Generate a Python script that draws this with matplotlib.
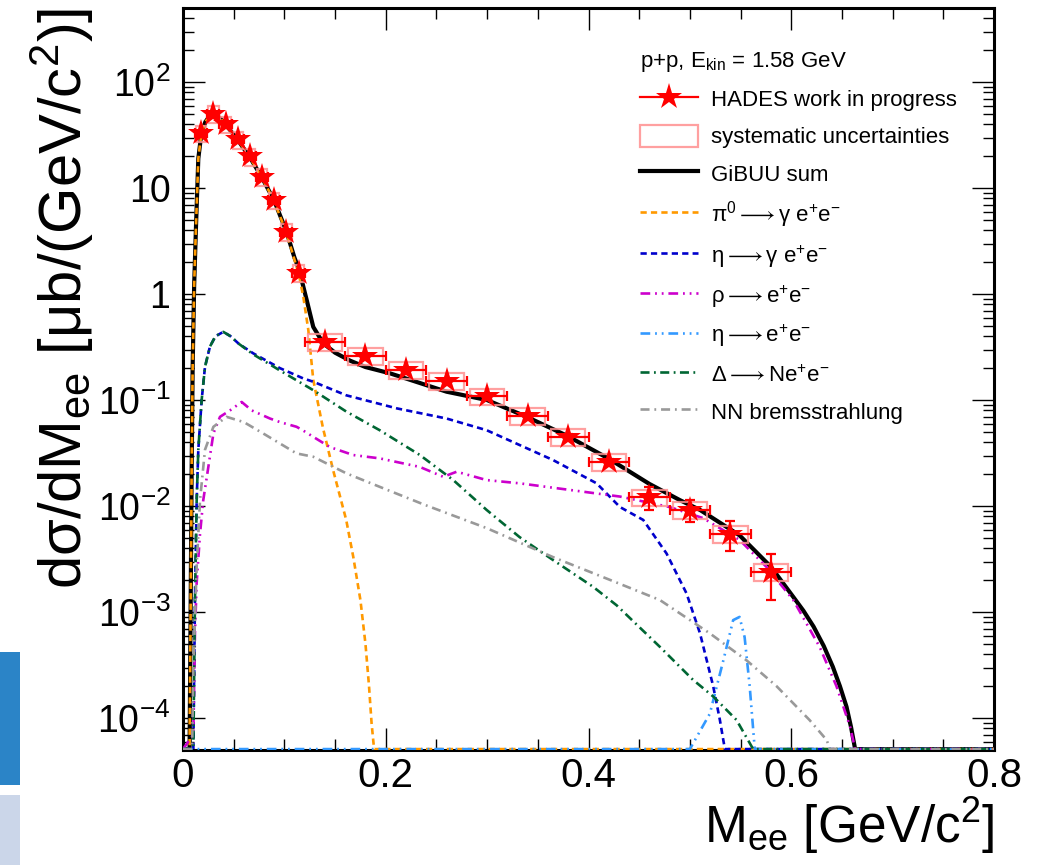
import numpy as np
import matplotlib
matplotlib.use("Agg")
import matplotlib.pyplot as plt
from matplotlib.patches import Rectangle
from matplotlib.lines import Line2D
from matplotlib.ticker import FixedLocator, FixedFormatter, LogLocator, MultipleLocator, NullFormatter

plt.rcParams['font.family'] = ['Liberation Sans', 'DejaVu Sans']
plt.rcParams['mathtext.fontset'] = 'custom'
plt.rcParams['mathtext.rm'] = 'Liberation Sans'
plt.rcParams['mathtext.it'] = 'Liberation Sans'
plt.rcParams['mathtext.bf'] = 'Liberation Sans:bold'
plt.rcParams['mathtext.default'] = 'regular'
plt.rcParams['mathtext.fallback'] = 'stixsans'
plt.rcParams['lines.scale_dashes'] = False

# ---------------- data ----------------
# HADES data points
x_data = [0.018, 0.030, 0.042, 0.054, 0.066, 0.078, 0.090, 0.102, 0.114,
          0.14, 0.18, 0.22, 0.26, 0.30, 0.34, 0.38, 0.42, 0.46, 0.50, 0.54, 0.58]
y_data = [33.0, 50.0, 40.0, 28.8, 19.9, 12.7, 7.7, 3.87, 1.59,
          0.355, 0.26, 0.192, 0.151, 0.109, 0.0706, 0.0451, 0.0262, 0.0121, 0.0092, 0.0055, 0.0024]
x_binhalf = [0.006] * 9 + [0.02] * 12
y_stat = [1.0, 1.5, 1.2, 0.9, 0.6, 0.4, 0.25, 0.15, 0.07,
          0.02, 0.013, 0.009, 0.007, 0.005, 0.0035, 0.0025, 0.0018, 0.003, 0.0021, 0.0017, 0.0011]
syst_rel = 0.18

# GiBUU sum
sum_x = [0.0, 0.0065, 0.0075, 0.0085, 0.0095, 0.011, 0.0128, 0.0151, 0.018, 0.022, 0.027, 0.031, 0.036,
         0.042, 0.054, 0.066, 0.078, 0.090, 0.102, 0.110, 0.114, 0.118, 0.122, 0.1285, 0.1384, 0.150,
         0.165, 0.180, 0.204, 0.227, 0.260, 0.300, 0.339, 0.378, 0.420, 0.460, 0.490, 0.510, 0.549,
         0.580, 0.602, 0.612, 0.622, 0.632, 0.641, 0.648, 0.6545, 0.659, 0.663, 0.8]
sum_y = [0.0, 5e-5, 1e-3, 0.02, 0.2, 1.2, 4.3, 19.0, 32.0, 42.0, 49.0, 50.0, 46.0,
         40.0, 28.5, 19.5, 12.5, 7.6, 3.9, 2.2, 1.75, 1.25, 0.88, 0.49, 0.343, 0.28,
         0.235, 0.205, 0.179, 0.152, 0.12, 0.10, 0.0695, 0.0465, 0.028, 0.0162, 0.0114, 0.0092, 0.0053,
         0.00267, 0.00139, 1.03e-3, 7.3e-4, 4.8e-4, 3.05e-4, 2.0e-4, 1.28e-4, 8.2e-5, 5e-5, 0.0]

# pi0 -> gamma e+e-
pi0_x = [0.0, 0.0065, 0.0075, 0.0085, 0.0095, 0.011, 0.0128, 0.0151, 0.018, 0.022, 0.027, 0.031, 0.036,
         0.042, 0.054, 0.066, 0.078, 0.090, 0.102, 0.110, 0.1145, 0.1187, 0.1236, 0.1285, 0.138, 0.148,
         0.161, 0.168, 0.175, 0.180, 0.1835, 0.186, 0.1885, 0.8]
pi0_y = [0.0, 5e-5, 1e-3, 0.02, 0.2, 1.2, 4.3, 19.0, 32.0, 42.0, 49.0, 50.0, 46.0,
         40.0, 28.5, 19.5, 12.5, 7.5, 3.8, 2.1, 1.5, 0.94, 0.46, 0.155, 0.055, 0.022,
         0.0074, 0.0033, 0.0013, 5e-4, 2e-4, 9e-5, 5e-5, 0.0]

# eta -> gamma e+e-
etad_x = [0.0, 0.0102, 0.0118, 0.0135, 0.0151, 0.0184, 0.0217, 0.0266, 0.0320, 0.0398, 0.047, 0.055,
          0.0693, 0.0957, 0.1187, 0.1285, 0.161, 0.211, 0.26, 0.2995, 0.365, 0.408, 0.431, 0.454,
          0.477, 0.4967, 0.51, 0.523, 0.5296, 0.5345, 0.8]
etad_y = [0.0, 5e-5, 1.3e-3, 0.0114, 0.034, 0.10, 0.206, 0.32, 0.40, 0.44, 0.40, 0.34,
          0.276, 0.20, 0.16, 0.149, 0.111, 0.0835, 0.067, 0.052, 0.0272, 0.0164, 0.0098, 0.0074,
          0.00357, 0.0015, 6.3e-4, 2e-4, 9.6e-5, 5e-5, 0.0]

# rho -> e+e-
rho_x = [0.0, 0.0102, 0.0118, 0.0135, 0.0168, 0.020, 0.025, 0.030, 0.0365, 0.0464, 0.0579, 0.0677,
         0.0858, 0.0957, 0.112, 0.118, 0.1285, 0.145, 0.168, 0.194, 0.2337, 0.2567, 0.27, 0.2995,
         0.332, 0.3817, 0.431, 0.48, 0.513, 0.549, 0.5755, 0.602, 0.628, 0.6446, 0.658, 0.663, 0.8]
rho_y = [0.0, 7e-5, 6.3e-4, 0.0019, 0.0055, 0.0114, 0.0234, 0.0485, 0.0695, 0.08, 0.096, 0.08,
         0.067, 0.062, 0.056, 0.052, 0.045, 0.036, 0.0303, 0.0282, 0.0234, 0.0189, 0.0211, 0.0176,
         0.0164, 0.0142, 0.0123, 0.0098, 0.0077, 0.0048, 0.00267, 0.0013, 4.7e-4, 2e-4, 8.3e-5, 5e-5, 0.0]

# eta -> e+e-
etaee_x = [0.0, 0.500, 0.5197, 0.533, 0.5427, 0.549, 0.554, 0.559, 0.564, 0.8]
etaee_y = [0.0, 5e-5, 1.1e-4, 3.5e-4, 8.4e-4, 9.0e-4, 5.8e-4, 2e-4, 5e-5, 0.0]

# Delta -> N e+e-
delta_x = [0.0, 0.0102, 0.0118, 0.0135, 0.0151, 0.0184, 0.0217, 0.0266, 0.0320, 0.0398, 0.047, 0.055,
           0.0693, 0.0957, 0.1285, 0.161, 0.194, 0.2337, 0.2666, 0.2995, 0.332, 0.365, 0.4046,
           0.4277, 0.4704, 0.503, 0.523, 0.546, 0.5624, 0.8]
delta_y = [0.0, 5e-5, 1.3e-3, 0.0114, 0.034, 0.10, 0.206, 0.32, 0.40, 0.44, 0.40, 0.34,
           0.27, 0.19, 0.124, 0.078, 0.052, 0.0303, 0.0176, 0.0092, 0.0051, 0.0031, 0.00173,
           0.00116, 4.7e-4, 2.3e-4, 1.6e-4, 9.6e-5, 5e-5, 0.0]

# NN bremsstrahlung
brems_x = [0.0, 0.009, 0.0102, 0.0135, 0.0168, 0.0217, 0.030, 0.043, 0.060, 0.079, 0.112, 0.1285,
           0.161, 0.194, 0.237, 0.2995, 0.365, 0.4277, 0.4704, 0.5197, 0.556, 0.5855, 0.618,
           0.635, 0.638, 0.8]
brems_y = [0.0, 5e-5, 3e-4, 0.0027, 0.0114, 0.034, 0.056, 0.0695, 0.062, 0.0485, 0.0314, 0.0292,
           0.0204, 0.0152, 0.0104, 0.0062, 0.0033, 0.0019, 0.0013, 6.3e-4, 3.5e-4, 2e-4, 9.6e-5,
           6.2e-5, 5e-5, 0.0]

legend_title = 'p+p, E$_{kin}$ = 1.58 GeV'
labels = ['HADES work in progress', 'systematic uncertainties', 'GiBUU sum',
          r'π$^{0}\longrightarrow$γ e$^{+}$e$^{-}$', r'η$\longrightarrow$γ e$^{+}$e$^{-}$',
          r'ρ$\longrightarrow$e$^{+}$e$^{-}$', r'η$\longrightarrow$e$^{+}$e$^{-}$',
          r'Δ$\longrightarrow$Ne$^{+}$e$^{-}$', 'NN bremsstrahlung']

xtick_values = [0.0, 0.2, 0.4, 0.6, 0.8]
xtick_labels = ['0', '0.2', '0.4', '0.6', '0.8']
ytick_values = [1e-4, 1e-3, 1e-2, 1e-1, 1, 10, 100]
ytick_labels = ['$10^{-4}$', '$10^{-3}$', '$10^{-2}$', '$10^{-1}$', '1', '10', '$10^{2}$']

YMIN, YMAX = 5e-5, 500.0
XMIN, XMAX = 0.0, 0.8

# ---------------- figure ----------------
fig = plt.figure(figsize=(10.48, 8.65), dpi=100)
ax = fig.add_axes([183 / 1048, 1 - 750 / 865, (994 - 183) / 1048, (750 - 8) / 865])

# slide decoration at left edge
fig.add_artist(Rectangle((0, 1 - 785 / 865), 20 / 1048, 133 / 865, transform=fig.transFigure,
                         facecolor='#2b84c7', edgecolor='none'))
fig.add_artist(Rectangle((0, 0), 20 / 1048, 70 / 865, transform=fig.transFigure,
                         facecolor='#cbd6e9', edgecolor='none'))


def clip(v):
    return np.clip(np.asarray(v, dtype=float), YMIN * 1.02, None)


styles = [
    (sum_x, sum_y, dict(color='black', lw=3.0, ls='-', zorder=3)),
    (pi0_x, pi0_y, dict(color='#ff9900', lw=1.9, ls=(0, (4.5, 3.0)), zorder=4)),
    (etad_x, etad_y, dict(color='#0000cc', lw=1.9, ls=(0, (4.5, 3.0)), zorder=4)),
    (rho_x, rho_y, dict(color='#cc00cc', lw=1.9, ls=(0, (7, 3.5, 1.3, 3.5, 1.3, 3.5)), zorder=4)),
    (etaee_x, etaee_y, dict(color='#3399ff', lw=1.9, ls=(0, (7, 3.5, 1.3, 3.5, 1.3, 3.5)), zorder=4)),
    (delta_x, delta_y, dict(color='#006633', lw=1.9, ls=(0, (6.5, 3.2, 1.3, 3.2)), zorder=4)),
    (brems_x, brems_y, dict(color='#999999', lw=1.9, ls=(0, (6.5, 3.5, 1.3, 3.5)), zorder=4)),
]
handles_lines = []
for xs, ys, st in styles:
    ln, = ax.plot(xs, clip(ys), **st)
    handles_lines.append(ln)

# systematic boxes
xd = np.array(x_data)
yd = np.array(y_data)
xh = np.array(x_binhalf)
for xi, yi, hi in zip(xd, yd, xh):
    w = 0.85 * hi
    ax.add_patch(Rectangle((xi - w, yi * (1 - syst_rel)), 2 * w, yi * 2 * syst_rel,
                           facecolor='none', edgecolor='#ff9090', lw=1.6, alpha=0.85, zorder=5))

ax.errorbar(xd, yd, xerr=xh, yerr=np.array(y_stat), fmt='none', ecolor='#ff0000',
            elinewidth=1.6, capsize=3.5, capthick=1.6, zorder=6)
ax.plot(xd, yd, ls='none', marker='*', color='#ff0000', markersize=20, markeredgewidth=0, zorder=7)

ax.set_yscale('log')
ax.set_xlim(XMIN, XMAX)
ax.set_ylim(YMIN, YMAX)

ax.xaxis.set_major_locator(FixedLocator(xtick_values))
ax.xaxis.set_major_formatter(FixedFormatter(xtick_labels))
ax.xaxis.set_minor_locator(MultipleLocator(0.05))
ax.yaxis.set_major_locator(FixedLocator(ytick_values))
ax.yaxis.set_major_formatter(FixedFormatter(ytick_labels))
ax.yaxis.set_minor_locator(LogLocator(base=10, subs=np.arange(2, 10), numticks=20))
ax.yaxis.set_minor_formatter(NullFormatter())

ax.tick_params(which='both', direction='in', top=True, right=True, width=1.0, color='black')
ax.tick_params(which='major', length=16)
ax.tick_params(which='minor', length=8)
ax.tick_params(axis='x', which='major', labelsize=29, pad=5)
ax.tick_params(axis='y', which='major', labelsize=27, pad=9)
for sp in ax.spines.values():
    sp.set_linewidth(2.2)

fig.text(995 / 1048, 1 - 843 / 865, 'M$_{ee}$ [GeV/c$^{2}$]', ha='right', va='baseline', fontsize=37)
fig.text(62 / 1048, 1 - 8 / 865, 'dσ/dM$_{ee}$ [μb/(GeV/c$^{2}$)]', ha='center', va='top',
         rotation=90, fontsize=43)

# legend
h_data = Line2D([], [], color='#ff0000', lw=1.6, marker='*', markersize=20, markeredgewidth=0)
h_syst = Rectangle((0, 0), 1, 1, facecolor='none', edgecolor='#ff9090', lw=1.6, alpha=0.85)
handles = [h_data, h_syst] + handles_lines
leg = ax.legend(handles, labels, title=legend_title, loc='upper left',
                bbox_to_anchor=((640 - 183) / 811, (750 - 50) / 742), frameon=False,
                fontsize=16, title_fontsize=16, alignment='left', borderpad=0, borderaxespad=0,
                handlelength=2.6, handleheight=1.2, handletextpad=0.6, labelspacing=0.6)

fig.savefig('out.png', dpi=100)
